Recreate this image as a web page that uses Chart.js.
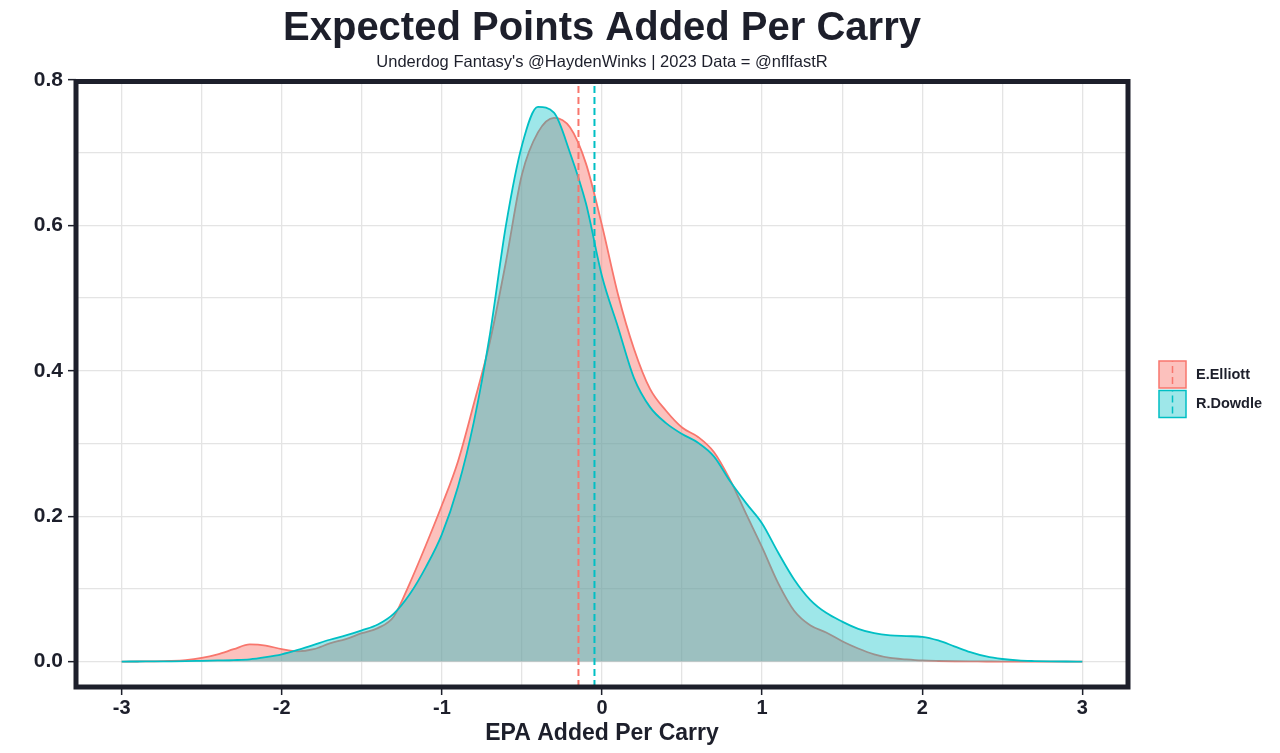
<!DOCTYPE html>
<html>
<head>
<meta charset="utf-8">
<title>Expected Points Added Per Carry</title>
<script src="https://cdn.jsdelivr.net/npm/chart.js@4/dist/chart.umd.min.js"></script>
<style>
  html, body { margin: 0; padding: 0; background: #ffffff; }
</style>
</head>
<body>
<canvas id="epa-chart" width="1280" height="753"></canvas>
<script>
// EPA per carry grid and kernel density estimates
const epaGrid = [
  -3.0, -2.9, -2.8, -2.7, -2.6, -2.5, -2.4, -2.3, -2.2, -2.1,
  -2.0, -1.9, -1.8, -1.7, -1.6, -1.5, -1.4, -1.3, -1.2, -1.1,
  -1.0, -0.9, -0.8, -0.7, -0.6, -0.5, -0.4, -0.3, -0.2, -0.1,
   0.0,  0.1,  0.2,  0.3,  0.4,  0.5,  0.6,  0.7,  0.8,  0.9,
   1.0,  1.1,  1.2,  1.3,  1.4,  1.5,  1.6,  1.7,  1.8,  1.9,
   2.0,  2.1,  2.2,  2.3,  2.4,  2.5,  2.6,  2.7,  2.8,  2.9,
   3.0
];
const elliottDensity = [
  0, 0.0001, 0.0003, 0.0008, 0.002, 0.005, 0.010, 0.017, 0.0235, 0.022,
  0.017, 0.014, 0.017, 0.025, 0.031, 0.039, 0.046, 0.062, 0.108, 0.160,
  0.215, 0.275, 0.355, 0.440, 0.550, 0.670, 0.728, 0.748, 0.735, 0.685,
  0.600, 0.505, 0.430, 0.375, 0.345, 0.322, 0.309, 0.288, 0.250, 0.203,
  0.157, 0.108, 0.070, 0.050, 0.040, 0.028, 0.018, 0.010, 0.005, 0.003,
  0.0015, 0.0008, 0.0004, 0.0002, 0.0001, 0, 0, 0, 0, 0,
  0
];
const dowdleDensity = [
  0, 0.0001, 0.0002, 0.0003, 0.0005, 0.001, 0.0015, 0.002, 0.003, 0.006,
  0.010, 0.016, 0.023, 0.030, 0.036, 0.043, 0.051, 0.066, 0.093, 0.130,
  0.175, 0.240, 0.330, 0.450, 0.600, 0.710, 0.763, 0.755, 0.700, 0.630,
  0.530, 0.460, 0.390, 0.350, 0.328, 0.313, 0.301, 0.282, 0.248, 0.218,
  0.190, 0.150, 0.113, 0.085, 0.067, 0.055, 0.045, 0.039, 0.036, 0.035,
  0.034, 0.029, 0.021, 0.013, 0.007, 0.0035, 0.0015, 0.0007, 0.0003, 0.0001,
  0
];
const playerNames = ["E.Elliott", "R.Dowdle"];
const meanEPA = [-0.147, -0.047];

const xLimits = [-3.285, 3.285];
const yLimits = [-0.035, 0.8];

const ink = '#1d1f2b';
const lineColors = ['#F8766D', '#00BFC4'];
const fillColors = ['rgba(248,118,109,0.45)', 'rgba(0,191,196,0.38)'];
const fontFamily = "'Liberation Sans', Arial, Helvetica, sans-serif";

Chart.defaults.font.family = fontFamily;
Chart.defaults.color = ink;

function toPoints(xs, ys) {
  return xs.map((x, i) => ({x: x, y: ys[i]}));
}
function isWhole(v, step) {
  return Math.abs(v / step - Math.round(v / step)) < 1e-6;
}

// title, panel border and legend in the ggplot look
const decorations = {
  id: 'decorations',
  afterDraw(chart) {
    const ctx = chart.ctx;
    const area = chart.chartArea;
    const cx = (area.left + area.right) / 2;
    ctx.save();

    ctx.fillStyle = ink;
    ctx.textAlign = 'center';
    ctx.textBaseline = 'alphabetic';
    ctx.font = 'bold 40px ' + fontFamily;
    ctx.fillText('Expected Points Added Per Carry', cx, 40);
    ctx.font = '16.5px ' + fontFamily;
    ctx.fillText("Underdog Fantasy's @HaydenWinks | 2023 Data = @nflfastR", cx, 67);

    ctx.strokeStyle = ink;
    ctx.lineWidth = 5;
    ctx.strokeRect(area.left, area.top + 1.5, area.right - area.left, area.bottom - area.top - 1.5);

    for (let i = 0; i < playerNames.length; i++) {
      const bx = 1159, by = 361 + i * 29.5, size = 27;
      ctx.fillStyle = '#ffffff';
      ctx.fillRect(bx, by, size, size);
      ctx.fillStyle = fillColors[i];
      ctx.fillRect(bx, by, size, size);
      ctx.strokeStyle = lineColors[i];
      ctx.lineWidth = 1.5;
      ctx.setLineDash([]);
      ctx.strokeRect(bx, by, size, size);
      ctx.setLineDash([7, 4]);
      ctx.lineDashOffset = -5;
      ctx.beginPath();
      ctx.moveTo(bx + size / 2, by);
      ctx.lineTo(bx + size / 2, by + size);
      ctx.stroke();
      ctx.setLineDash([]);

      ctx.fillStyle = ink;
      ctx.textAlign = 'left';
      ctx.textBaseline = 'middle';
      ctx.font = 'bold 14.5px ' + fontFamily;
      ctx.fillText(playerNames[i], 1196, by + size / 2);
    }
    ctx.restore();
  }
};

const densities = [elliottDensity, dowdleDensity];
const datasets = [];
for (let i = 0; i < playerNames.length; i++) {
  datasets.push({
    label: playerNames[i],
    data: toPoints(epaGrid, densities[i]),
    borderColor: lineColors[i],
    backgroundColor: fillColors[i],
    borderWidth: 1.8,
    fill: 'origin',
    pointRadius: 0,
    cubicInterpolationMode: 'monotone',
    order: 4 - i
  });
}
for (let i = 0; i < playerNames.length; i++) {
  datasets.push({
    label: playerNames[i] + ' mean',
    data: [{x: meanEPA[i], y: yLimits[0]}, {x: meanEPA[i], y: yLimits[1]}],
    borderColor: lineColors[i],
    borderWidth: 2,
    borderDash: [7, 4],
    fill: false,
    pointRadius: 0,
    order: 2 - i
  });
}

new Chart(document.getElementById('epa-chart'), {
  type: 'line',
  data: {datasets: datasets},
  options: {
    responsive: false,
    animation: false,
    devicePixelRatio: 1,
    layout: {padding: {top: 80, right: 152, bottom: 0, left: 0}},
    plugins: {
      legend: {display: false},
      tooltip: {enabled: false}
    },
    scales: {
      x: {
        type: 'linear',
        min: xLimits[0],
        max: xLimits[1],
        border: {display: false},
        grid: {
          color: '#e4e4e4',
          lineWidth: 1.3,
          tickLength: 8,
          tickWidth: 1.5,
          tickColor: (c) => isWhole(c.tick.value, 1) ? ink : 'rgba(0,0,0,0)'
        },
        ticks: {
          stepSize: 0.5,
          includeBounds: false,
          autoSkip: false,
          maxRotation: 0,
          padding: 1,
          color: ink,
          font: {size: 20, weight: 'bold'},
          callback: (v) => isWhole(v, 1) ? String(Math.round(v)) : ''
        },
        title: {
          display: true,
          text: 'EPA Added Per Carry',
          color: ink,
          font: {size: 23, weight: 'bold'},
          padding: {top: 0, bottom: 6}
        },
        afterFit(scale) { scale.height = 66; }
      },
      y: {
        min: yLimits[0],
        max: yLimits[1],
        border: {display: false},
        grid: {
          color: '#e4e4e4',
          lineWidth: 1.3,
          tickLength: 8,
          tickWidth: 1.5,
          tickColor: (c) => isWhole(c.tick.value, 0.2) ? ink : 'rgba(0,0,0,0)'
        },
        ticks: {
          stepSize: 0.1,
          includeBounds: false,
          autoSkip: false,
          padding: 5,
          color: ink,
          font: {size: 21, weight: 'bold'},
          callback: (v) => isWhole(v, 0.2) ? v.toFixed(1) : ''
        },
        afterFit(scale) { scale.width = 76; }
      }
    }
  },
  plugins: [decorations]
});
</script>
</body>
</html>
